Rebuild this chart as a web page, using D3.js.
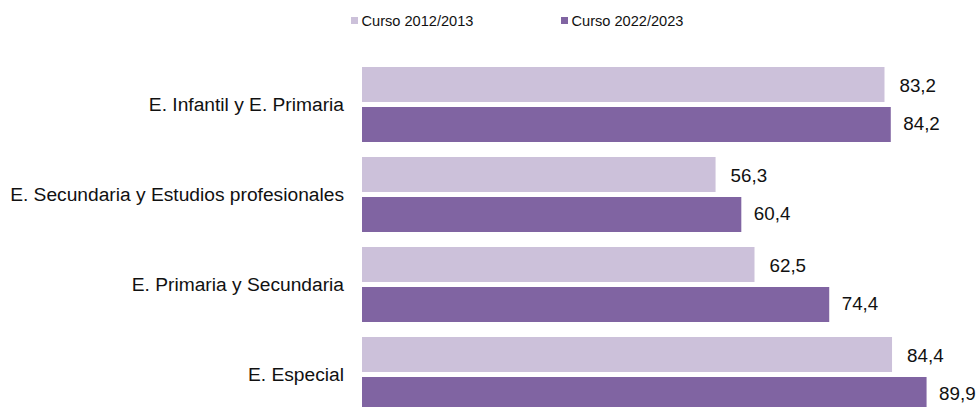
<!DOCTYPE html>
<html>
<head>
<meta charset="utf-8">
<script src="https://cdn.jsdelivr.net/npm/d3@7"></script>
<style>
  html, body { margin: 0; padding: 0; background: #fff; }
  svg { display: block; font-family: "Liberation Sans", Arial, sans-serif; }
</style>
</head>
<body>
<svg id="chart" width="980" height="407"></svg>
<script>
// Etapas educativas
const categories = [
  "E. Infantil y E. Primaria",
  "E. Secundaria y Estudios profesionales",
  "E. Primaria y Secundaria",
  "E. Especial"
];
const seriesNames = ["Curso 2012/2013", "Curso 2022/2023"];
const values2012 = [83.2, 56.3, 62.5, 84.4];
const values2022 = [84.2, 60.4, 74.4, 89.9];
const seriesColors = ["#ccc1da", "#8064a2"];

const svg = d3.select("#chart");

const x = d3.scaleLinear().domain([0, 100]).range([362, 990]);

const y = d3.scaleBand()
  .domain(categories)
  .range([59.5, 419.5])
  .paddingInner(1 / 6)
  .paddingOuter(1 / 12);

const ySub = d3.scaleBand()
  .domain(seriesNames)
  .range([0, y.bandwidth()])
  .paddingInner(0.125);

const fmt = v => d3.format(".1f")(v).replace(".", ",");

const rows = categories.map((c, i) => ({
  cat: c,
  vals: [
    { s: seriesNames[0], v: values2012[i], k: 0 },
    { s: seriesNames[1], v: values2022[i], k: 1 }
  ]
}));

// Category axis on the left, no line or ticks
const yAxis = d3.axisLeft(y).tickSize(0).tickPadding(18);
const gy = svg.append("g")
  .attr("transform", `translate(${x(0)},0)`)
  .call(yAxis);
gy.select(".domain").remove();
gy.selectAll("text")
  .attr("font-size", 19.2)
  .attr("fill", "#111")
  .attr("font-family", "'Liberation Sans', Arial, sans-serif");

const groups = svg.append("g").selectAll("g")
  .data(rows)
  .join("g")
  .attr("transform", d => `translate(0,${y(d.cat)})`);

groups.selectAll("rect")
  .data(d => d.vals)
  .join("rect")
  .attr("x", x(0))
  .attr("y", d => ySub(d.s))
  .attr("width", d => x(d.v) - x(0))
  .attr("height", ySub.bandwidth())
  .attr("fill", d => seriesColors[d.k]);

const labelGap = [15, 12.5];
groups.selectAll("text")
  .data(d => d.vals)
  .join("text")
  .attr("x", d => x(d.v) + labelGap[d.k])
  .attr("y", d => ySub(d.s) + ySub.bandwidth() / 2 + (d.k === 0 ? 1 : -1))
  .attr("dy", "0.35em")
  .attr("font-size", 18.8)
  .attr("fill", "#111")
  .text(d => fmt(d.v));

// Legend
const legendX = [351, 561];
const legend = svg.append("g").selectAll("g")
  .data(seriesNames)
  .join("g")
  .attr("transform", (d, i) => `translate(${legendX[i]},0)`);
legend.append("rect")
  .attr("x", 0).attr("y", 17)
  .attr("width", 7).attr("height", 7)
  .attr("fill", (d, i) => seriesColors[i]);
legend.append("text")
  .attr("x", 10.5).attr("y", 20.5)
  .attr("dy", "0.35em")
  .attr("font-size", 14.6)
  .attr("fill", "#111")
  .text(d => d);
</script>
</body>
</html>
